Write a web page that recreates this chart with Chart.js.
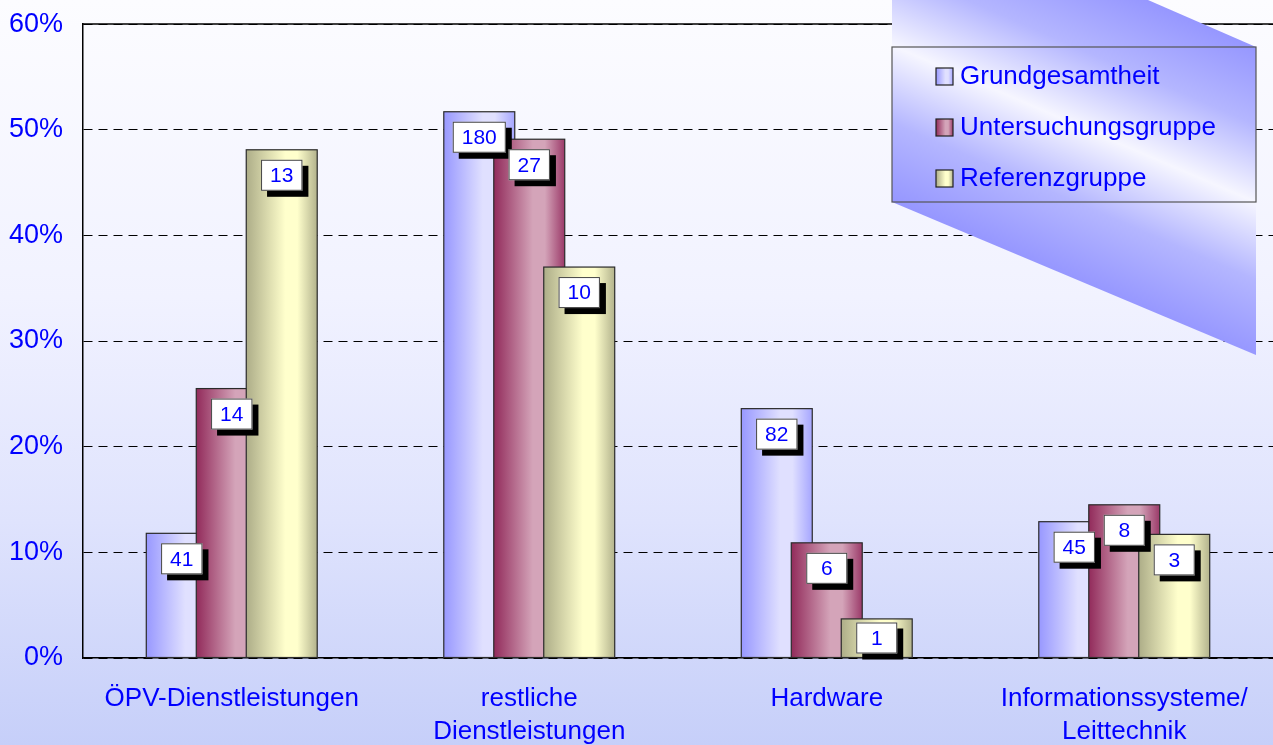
<!DOCTYPE html>
<html>
<head>
<meta charset="utf-8">
<script src="https://cdn.jsdelivr.net/npm/chart.js@4.4.1/dist/chart.umd.min.js"></script>
<style>
    html, body { margin: 0; padding: 0; }
    body {
        width: 1273px;
        height: 745px;
        overflow: hidden;
        background: linear-gradient(to bottom, #fcfcff 0%, #f1f2ff 40%, #dfe3fd 70%, #c6cff9 100%);
    }
    #chartBox { position: relative; width: 1273px; height: 745px; }
</style>
</head>
<body>
<div id="chartBox"><canvas id="barChart"></canvas></div>
<script>
// Data
const categories = ['ÖPV-Dienstleistungen', ['restliche', 'Dienstleistungen'], 'Hardware', ['Informationssysteme/', 'Leittechnik']];
const seriesNames = ['Grundgesamtheit', 'Untersuchungsgruppe', 'Referenzgruppe'];
const grundgesamtheit = [11.8, 51.7, 23.6, 12.9];
const untersuchungsgruppe = [25.5, 49.1, 10.9, 14.5];
const referenzgruppe = [48.1, 37.0, 3.7, 11.7];
const grundgesamtheitCounts = [41, 180, 82, 45];
const untersuchungsgruppeCounts = [14, 27, 6, 8];
const referenzgruppeCounts = [13, 10, 1, 3];
const yTicks = [0, 10, 20, 30, 40, 50, 60];

const textBlue = '#0000ff';
const fontName = '"Liberation Sans", Arial, sans-serif';

// cylinder like shading for each series: dark, light, mid
const barShades = [
    ['#9898ff', '#e0e0ff', '#a6a6ff'],
    ['#922b5b', '#d4a4b9', '#9b3a69'],
    ['#adad88', '#ffffcc', '#b3b38d']
];
const countLists = [grundgesamtheitCounts, untersuchungsgruppeCounts, referenzgruppeCounts];

function barGradient(ctx, left, right, shade) {
    const g = ctx.createLinearGradient(left, 0, right, 0);
    g.addColorStop(0, shade[0]);
    g.addColorStop(0.55, shade[1]);
    g.addColorStop(0.72, shade[1]);
    g.addColorStop(1, shade[2]);
    return g;
}

// Draw bars left to right so the right bar of a group lies on top
const barPainter = {
    id: 'barPainter',
    beforeDatasetsDraw(chart) {
        const ctx = chart.ctx;
        const area = chart.chartArea;
        ctx.save();
        ctx.beginPath();
        ctx.rect(area.left, area.top - 2, area.right - area.left, area.bottom - area.top + 2);
        ctx.clip();
        chart.data.datasets.forEach((ds, di) => {
            const meta = chart.getDatasetMeta(di);
            meta.data.forEach(bar => {
                const left = bar.x - bar.width / 2;
                const right = bar.x + bar.width / 2;
                ctx.fillStyle = barGradient(ctx, left, right, barShades[di]);
                ctx.fillRect(left, bar.y, bar.width, bar.base - bar.y);
                ctx.strokeStyle = '#2a2a2a';
                ctx.lineWidth = 1.2;
                ctx.strokeRect(left, bar.y, bar.width, bar.base - bar.y);
            });
        });
        ctx.restore();

        // count labels in white boxes with a black shadow
        ctx.save();
        ctx.font = '21px ' + fontName;
        ctx.textAlign = 'center';
        ctx.textBaseline = 'middle';
        chart.data.datasets.forEach((ds, di) => {
            const meta = chart.getDatasetMeta(di);
            meta.data.forEach((bar, i) => {
                const txt = String(countLists[di][i]);
                const w = Math.max(41, ctx.measureText(txt).width + 18);
                const h = 31;
                const top = Math.min(bar.y + 10, bar.base - h - 4);
                const left = bar.x - w / 2;
                ctx.fillStyle = '#000';
                ctx.fillRect(left + 6, top + 6, w, h);
                ctx.fillStyle = '#fff';
                ctx.fillRect(left, top, w, h);
                ctx.strokeStyle = '#444';
                ctx.lineWidth = 1;
                ctx.strokeRect(left + 0.5, top + 0.5, w - 1, h - 1);
                ctx.fillStyle = textBlue;
                ctx.fillText(txt, bar.x, top + h / 2 + 1);
            });
        });
        ctx.restore();
        return false;
    },
    afterDraw(chart) {
        const ctx = chart.ctx;
        const area = chart.chartArea;
        // solid top border of the plot
        ctx.save();
        ctx.strokeStyle = '#000';
        ctx.lineWidth = 1.5;
        ctx.beginPath();
        ctx.moveTo(area.left, area.top);
        ctx.lineTo(area.right, area.top);
        ctx.stroke();

        // decorative legend shape, shaded across its slanted band
        const x1 = 892, x2 = 1256;
        ctx.beginPath();
        ctx.moveTo(x1, 0);
        ctx.lineTo(1148, 0);
        ctx.lineTo(x2, 47);
        ctx.lineTo(x2, 355);
        ctx.lineTo(x1, 202);
        ctx.closePath();
        const g = ctx.createLinearGradient(1256, 47, 1143, 309);
        g.addColorStop(0, '#9697ff');
        g.addColorStop(0.25, '#b4b6ff');
        g.addColorStop(0.5, '#f6f6ff');
        g.addColorStop(0.75, '#b4b6ff');
        g.addColorStop(1, '#9697ff');
        ctx.fillStyle = g;
        ctx.fill();

        // legend frame
        ctx.strokeStyle = '#555';
        ctx.lineWidth = 1.2;
        ctx.strokeRect(x1, 47, x2 - x1, 155);

        ctx.font = '26px ' + fontName;
        ctx.textAlign = 'left';
        ctx.textBaseline = 'middle';
        const rows = [76, 127, 178];
        seriesNames.forEach((name, i) => {
            const y = rows[i];
            ctx.fillStyle = barGradient(ctx, 936, 953, barShades[i]);
            ctx.fillRect(936, y - 8, 17, 17);
            ctx.strokeStyle = '#222';
            ctx.lineWidth = 1.2;
            ctx.strokeRect(936, y - 8, 17, 17);
            ctx.fillStyle = textBlue;
            ctx.fillText(name, 960, y + 1);
        });
        ctx.restore();
    }
};

const ctx = document.getElementById('barChart').getContext('2d');

const data = {
    labels: categories,
    datasets: [
        { label: seriesNames[0], data: grundgesamtheit, backgroundColor: '#9999ff' },
        { label: seriesNames[1], data: untersuchungsgruppe, backgroundColor: '#993366' },
        { label: seriesNames[2], data: referenzgruppe, backgroundColor: '#ffffcc' }
    ]
};

const config = {
    type: 'bar',
    data: data,
    options: {
        responsive: false,
        animation: false,
        devicePixelRatio: 1,
        categoryPercentage: 0.504,
        barPercentage: 1.42,
        layout: { padding: { top: 24, right: 0, left: 0, bottom: 0 } },
        plugins: {
            legend: { display: false },
            tooltip: { enabled: false }
        },
        scales: {
            x: {
                grid: { display: false },
                border: { display: true, color: '#000', width: 1.5 },
                ticks: {
                    color: textBlue,
                    font: { family: fontName, size: 26, lineHeight: 1.27 },
                    padding: 16,
                    maxRotation: 0,
                    autoSkip: false
                },
                afterFit: scale => { scale.height = 87; }
            },
            y: {
                min: 0,
                max: 60,
                afterBuildTicks: scale => { scale.ticks = yTicks.map(v => ({ value: v })); },
                ticks: {
                    color: textBlue,
                    font: { family: fontName, size: 27, lineHeight: 0.3 },
                    padding: 20,
                    callback: v => v + '%'
                },
                grid: { color: '#000', lineWidth: 1, drawTicks: false },
                border: { display: true, color: '#000', width: 1.5, dash: [9, 6] },
                afterFit: scale => { scale.width = 83; }
            }
        }
    },
    plugins: [barPainter]
};

const canvas = document.getElementById('barChart');
canvas.width = 1273;
canvas.height = 745;
const barChart = new Chart(ctx, config);
</script>
</body>
</html>
